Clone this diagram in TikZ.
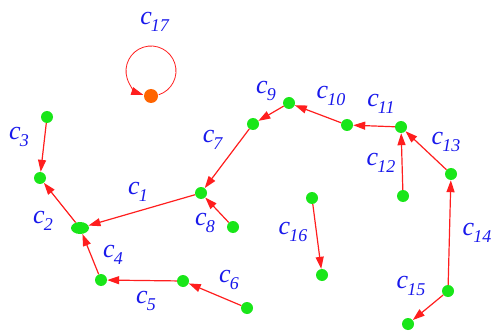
\documentclass[tikz,border=0pt]{standalone}
\usepackage{fontspec}
\setmainfont{Liberation Serif}
\usetikzlibrary{arrows.meta,shapes.geometric,calc}
\definecolor{ngreen}{RGB}{25,230,25}
\definecolor{nred}{RGB}{255,30,30}
\definecolor{nblue}{RGB}{25,25,235}
\definecolor{norange}{RGB}{255,100,0}
\newcommand{\lab}[1]{\textit{c}\kern-1pt\raisebox{-7pt}{\fontsize{18}{18}\selectfont\textit{#1}}}
\tikzset{
  vert/.style={circle,fill=ngreen,inner sep=0pt,minimum size=12pt},
  bigvert/.style={ellipse,fill=ngreen,inner sep=0pt,minimum width=18pt,minimum height=12pt},
  overt/.style={circle,fill=norange,inner sep=0pt,minimum size=14pt},
  edge/.style={draw=nred,line width=1.2pt,-{Triangle[length=12pt,width=8pt]},shorten >=0pt},
  loopedge/.style={draw=nred,line width=0.8pt,-{Triangle[length=12pt,width=8pt]}},
  lbl/.style={text=nblue,font=\fontsize{26}{28}\selectfont,inner sep=0pt,anchor=center}
}
\begin{document}
\begin{tikzpicture}[x=1pt,y=-1pt]
\useasboundingbox (0,0) rectangle (492,331);
% vertices
\node[vert] (A) at (47,117) {};
\node[vert] (B) at (40,178) {};
\node[bigvert] (C) at (80,228) {};
\node[vert] (D) at (101,280) {};
\node[vert] (E) at (183,281) {};
\node[vert] (F) at (247,308) {};
\node[vert] (G) at (201,193) {};
\node[vert] (H) at (233,227) {};
\node[vert] (I) at (253,124) {};
\node[vert] (J) at (289,103) {};
\node[vert] (K) at (347,125) {};
\node[vert] (L) at (401,127) {};
\node[vert] (M) at (403,196) {};
\node[vert] (N) at (451,174) {};
\node[vert] (O) at (448,291) {};
\node[vert] (P) at (408,324) {};
\node[vert] (Q) at (312,198) {};
\node[vert] (R) at (322,275) {};
\node[overt] (S) at (151,96) {};
% edges
\draw[edge] (A) -- (B);
\draw[edge] (C) -- (B);
\draw[edge] (G) -- (C);
\draw[edge] (D) -- (C);
\draw[edge] (E) -- (D);
\draw[edge] (F) -- (E);
\draw[edge] (I) -- (G);
\draw[edge] (H) -- (G);
\draw[edge] (J) -- (I);
\draw[edge] (K) -- (J);
\draw[edge] (L) -- (K);
\draw[edge] (M) -- (L);
\draw[edge] (N) -- (L);
\draw[edge] (O) -- (N);
\draw[edge] (O) -- (P);
\draw[edge] (Q) -- (R);
\coordinate (Sc) at (151,71);
\draw[loopedge] ($(Sc)+(72:25)$) arc[start angle=72,end angle=-252,radius=25];
% labels
\node[lbl] (l17) at (155,22) {\lab{17}};
\node[lbl] (l3) at (19,137) {\lab{3}};
\node[lbl] (l7) at (213,140) {\lab{7}};
\node[lbl] (l1) at (138,192) {\lab{1}};
\node[lbl] (l2) at (43,221) {\lab{2}};
\node[lbl] (l8) at (205,223) {\lab{8}};
\node[lbl] (l4) at (113,255) {\lab{4}};
\node[lbl] (l5) at (146,301) {\lab{5}};
\node[lbl] (l6) at (229,280) {\lab{6}};
\node[lbl] (l9) at (266,91) {\lab{9}};
\node[lbl] (l10) at (331,96) {\lab{10}};
\node[lbl] (l11) at (381,104) {\lab{11}};
\node[lbl] (l12) at (381,163) {\lab{12}};
\node[lbl] (l13) at (446,142) {\lab{13}};
\node[lbl] (l14) at (477,233) {\lab{14}};
\node[lbl] (l15) at (411,286) {\lab{15}};
\node[lbl] (l16) at (293,232) {\lab{16}};
\end{tikzpicture}
\end{document}
